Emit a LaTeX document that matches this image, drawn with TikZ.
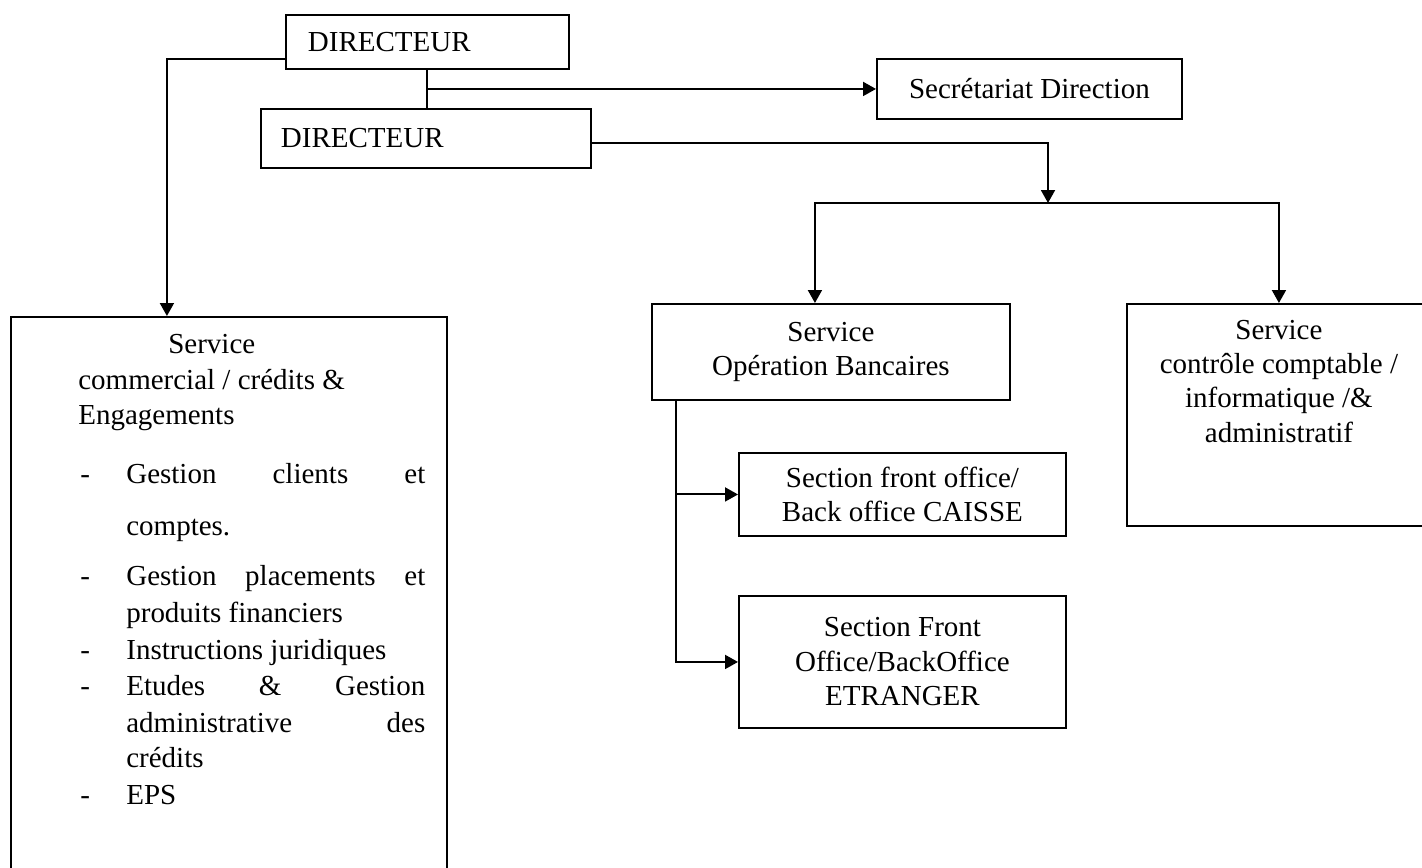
\documentclass[tikz,border=0pt]{standalone}
\usepackage{fontspec}
\setmainfont{Liberation Serif}
\usetikzlibrary{positioning,arrows.meta,calc}
\tikzset{
  box/.style={rectangle, draw=black, line width=1.1pt, inner sep=0pt},
  connect/.style={-{Triangle[width=2.8mm,length=2.6mm]}, line width=1.1pt},
  item/.style={anchor=base west, inner sep=0pt},
  lines/.style={align=center, font=\fontsize{16.5}{19.6}\selectfont}
}
\newcommand{\spread}[1]{\makebox[5.98cm][s]{#1}}

\begin{document}
\begin{tikzpicture}[x=0.02cm, y=-0.02cm, font=\fontsize{16.5}{19}\selectfont]
  \useasboundingbox (0,0) rectangle (1422,868);
  \clip (0,0) rectangle (1422,868);

  \node[box, anchor=north west, minimum height=1.08cm, text width=4.78cm, inner xsep=4.4mm, align=left] (Dir) at (285,14) {DIRECTEUR};
  \node[box, anchor=north west, minimum height=1.18cm, text width=5.8cm, inner xsep=4mm, align=left] (Dir2) at (260,108) {DIRECTEUR};
  \node[box, anchor=north west, minimum width=6.1cm, minimum height=1.2cm] (Secr) at (876,58) {Secrétariat Direction};
  \node[box, anchor=north west, minimum width=8.72cm, minimum height=11.4cm] (Comm) at (10,316) {};
  \node[box, lines, anchor=north west, minimum width=7.16cm, minimum height=1.92cm] (Oper) at (651,303) {Service\\Opération Bancaires};
  \node[box, anchor=north west, minimum width=6.08cm, minimum height=4.44cm] (Ctrl) at (1126,303) {};
  \node[lines, anchor=north, inner sep=0pt] (CtrlText) at ([yshift=-3.3mm]Ctrl.north) {Service\\contrôle comptable /\\informatique /\&\\administratif};
  \node[box, lines, anchor=north west, minimum width=6.54cm, minimum height=1.66cm] (SecA) at (738,452) {Section front office/\\Back office CAISSE};
  \node[box, lines, anchor=north west, minimum width=6.54cm, minimum height=2.64cm] (SecB) at (738,595) {Section Front\\Office/BackOffice\\ETRANGER};

  % text of the commercial service
  \node[item] (CommT1) at (168,353) {Service};
  \node[item] (CommT2) at (78,389) {commercial / crédits \&};
  \node[item] (CommT3) at (78,424) {Engagements};
  \foreach \y/\n in {483/1,585/2,659/3,695/4,804/5}
    \node[item] (Dash\n) at (80,\y) {-};
  \node[item] (Task1) at (126,483) {\spread{Gestion clients et}};
  \node[item] (Task1b) at (126,535) {comptes.};
  \node[item] (Task2) at (126,585) {\spread{Gestion placements et}};
  \node[item] (Task2b) at (126,622) {produits financiers};
  \node[item] (Task3) at (126,659) {Instructions juridiques};
  \node[item] (Task4) at (126,695) {\spread{Etudes \& Gestion}};
  \node[item] (Task4b) at (126,732) {\spread{administrative des}};
  \node[item] (Task4c) at (126,767) {crédits};
  \node[item] (Task5) at (126,804) {EPS};

  \coordinate (Hub) at (1048,203);
  \coordinate (Stem) at ([xshift=5mm]Oper.south west);

  \draw[connect] ([yshift=-3.4mm]Dir.west) -| ([xshift=-12.4mm]Comm.north);
  \draw[line width=1.1pt] (Dir.south) -- (Dir.south |- Dir2.north);
  \draw[connect] (Dir.south |- Secr.west) -- (Secr.west);
  \draw[connect] ([yshift=-1mm]Dir2.east) -| (Hub);
  \draw[connect] (Hub) -| ([xshift=-3.2mm]Oper.north);
  \draw[connect] (Hub) -| (Ctrl.north);
  \draw[connect] (Stem) |- (SecB.west);
  \draw[connect] (Stem |- SecA.west) -- (SecA.west);
\end{tikzpicture}
\end{document}
